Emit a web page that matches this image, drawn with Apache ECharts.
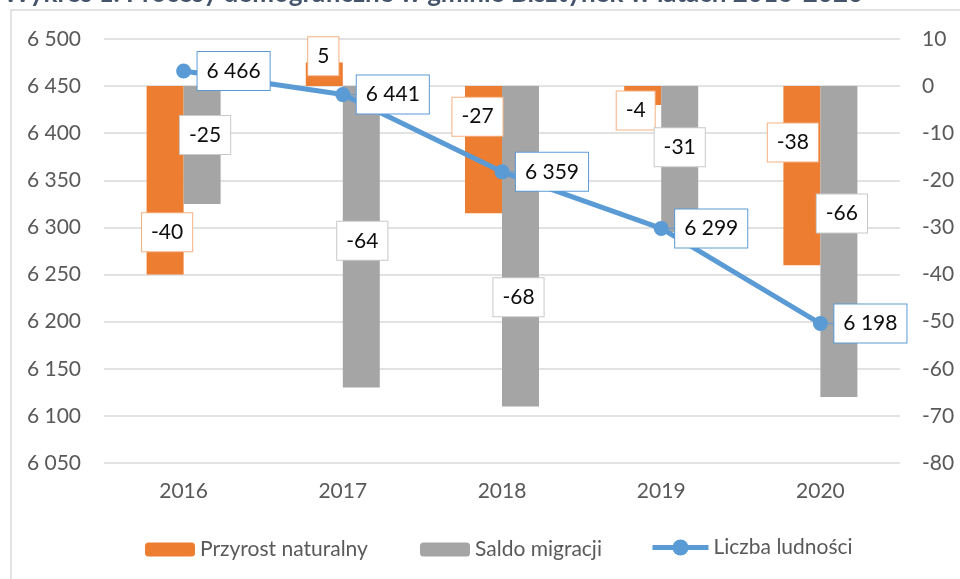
<!DOCTYPE html>
<html>
<head>
<meta charset="utf-8">
<title>Procesy demograficzne</title>
<script src="https://cdn.jsdelivr.net/npm/echarts@6/dist/echarts.min.js"></script>
<style>
	html,body{margin:0;padding:0;background:#fff;}
	#chart{width:960px;height:579px;}
</style>
</head>
<body>
<div id="chart"></div>
<script>
// dane
var years = ['2016', '2017', '2018', '2019', '2020'];
var przyrost = [-40, 5, -27, -4, -38];
var saldo = [-25, -64, -68, -31, -66];
var ludnosc = [6466, 6441, 6359, 6299, 6198];

// przesuniecia etykiet (jak w oryginale)
var przyrostOffsets = [[2, 52], [-1, -18], [-6, -33], [-7, 15], [-9, -33]];
var saldoOffsets = [[3, -10], [1, 4], [-2, 51], [0, -12], [3, -28]];

var FONT = 'Lato';
var fmt = function(v){
	return String(v).replace(/\B(?=(\d{3})+(?!\d))/g, ' ');
};

var barLabel = function(border){
	return {
		show: true,
		position: 'inside',
		fontFamily: FONT,
		fontSize: 21,
		lineHeight: 22,
		color: '#0d0d0d',
		backgroundColor: '#fff',
		borderColor: border,
		borderWidth: 1,
		padding: [8, 9]
	};
};

var withOffsets = function(values, offsets){
	var out = [];
	for(var i = 0; i < values.length; i++){
		out.push({value: values[i], label: {offset: offsets[i]}});
	}
	return out;
};

var legendText = {fontFamily: FONT, fontSize: 21, color: '#595959'};

var chart = echarts.init(document.getElementById('chart'));
chart.setOption({
	animation: false,
	textStyle: {fontFamily: FONT},
	title: {
		text: 'Wykres 1. Procesy demograficzne w gminie Bisztynek w latach 2016-2020',
		left: -2,
		top: -24,
		textStyle: {fontFamily: FONT, fontSize: 26, fontWeight: 'bold', color: '#44546a'}
	},
	graphic: [{
		type: 'rect',
		shape: {x: 11, y: 10, width: 1000, height: 620},
		style: {fill: null, stroke: '#d9d9d9', lineWidth: 1.5},
		silent: true,
		z: -10
	}],
	grid: {left: 104, right: 60, top: 39, bottom: 116},
	legend: [
		{data: ['Przyrost naturalny'], left: 140, top: 534, itemWidth: 50, itemHeight: 14, itemGap: 0,
			textStyle: legendText},
		{data: ['Saldo migracji'], left: 415, top: 534, itemWidth: 50, itemHeight: 14, itemGap: 0,
			textStyle: legendText},
		{data: ['Liczba ludności'], left: 645, top: 532, itemWidth: 56, itemHeight: 20, itemGap: 0,
			lineStyle: {width: 5}, textStyle: legendText}
	],
	xAxis: {
		type: 'category',
		data: years,
		axisLine: {show: false},
		axisTick: {show: false},
		axisLabel: {fontFamily: FONT, fontSize: 21, color: '#595959', margin: 18}
	},
	yAxis: [
		{
			type: 'value',
			min: 6050,
			max: 6500,
			interval: 50,
			axisLine: {show: false},
			axisTick: {show: false},
			axisLabel: {fontFamily: FONT, fontSize: 21, color: '#595959', margin: 23, formatter: fmt},
			splitLine: {lineStyle: {color: '#d9d9d9', width: 1.5}}
		},
		{
			type: 'value',
			min: -80,
			max: 10,
			interval: 10,
			axisLine: {show: false},
			axisTick: {show: false},
			axisLabel: {fontFamily: FONT, fontSize: 21, color: '#595959', margin: 22},
			splitLine: {show: false}
		}
	],
	series: [
		{
			name: 'Przyrost naturalny',
			type: 'bar',
			yAxisIndex: 1,
			barWidth: 37,
			barGap: '0%',
			itemStyle: {color: '#ed7d31'},
			label: barLabel('#f4b183'),
			data: withOffsets(przyrost, przyrostOffsets),
			z: 2
		},
		{
			name: 'Saldo migracji',
			type: 'bar',
			yAxisIndex: 1,
			barWidth: 37,
			barGap: '0%',
			itemStyle: {color: '#a5a5a5'},
			label: barLabel('#c9c9c9'),
			data: withOffsets(saldo, saldoOffsets),
			z: 2
		},
		{
			name: 'Liczba ludności',
			type: 'line',
			yAxisIndex: 0,
			data: ludnosc,
			symbol: 'circle',
			symbolSize: 15,
			lineStyle: {color: '#5b9bd5', width: 5},
			itemStyle: {color: '#5b9bd5'},
			label: {
				show: true,
				position: 'inside',
				formatter: function(p){ return fmt(p.value); },
				fontFamily: FONT,
				fontSize: 21,
				lineHeight: 22,
				color: '#0d0d0d',
				backgroundColor: '#fff',
				borderColor: '#5b9bd5',
				borderWidth: 1,
				padding: [8, 9]
			},
			labelLayout: {dx: 50},
			labelLine: {show: true, lineStyle: {color: '#5b9bd5', width: 1}},
			z: 5
		}
	]
});
</script>
</body>
</html>
